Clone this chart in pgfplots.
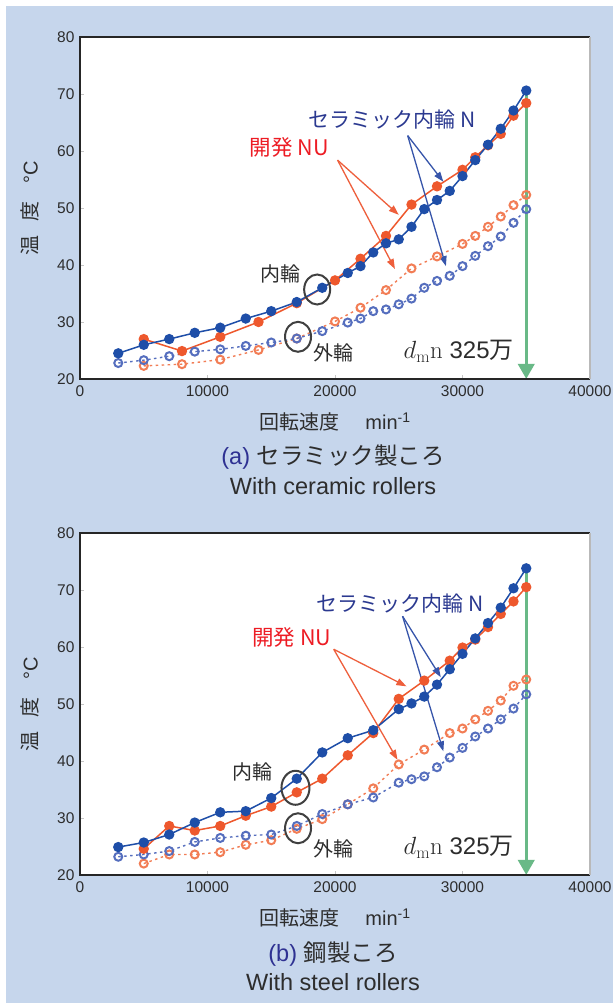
\documentclass[border=0pt]{standalone}
\usepackage[no-math]{fontspec}
\setmainfont{Liberation Sans}
\newfontfamily\jp{Noto Sans CJK JP}
\usepackage{pgfplots}
\pgfplotsset{compat=1.18}
\usetikzlibrary{arrows.meta}

\definecolor{bgblue}{RGB}{198,214,236}
\definecolor{blueF}{RGB}{30,78,168}
\definecolor{redF}{RGB}{238,88,45}
\definecolor{blueO}{RGB}{85,110,190}
\definecolor{redO}{RGB}{242,125,85}
\definecolor{txtblue}{RGB}{43,57,144}
\definecolor{txtred}{RGB}{237,28,36}
\definecolor{arrR}{RGB}{238,95,60}
\definecolor{arrB}{RGB}{55,85,170}
\definecolor{greenA}{RGB}{105,185,135}
\definecolor{capblue}{RGB}{46,49,146}
\definecolor{dark}{RGB}{45,45,45}

\pgfplotsset{mychart/.style={
  scale only axis, width=510pt, height=342pt,
  xmin=0, xmax=40000, ymin=20, ymax=80,
  xtick={0,10000,20000,30000,40000}, ytick={20,30,40,50,60,70,80},
  scaled x ticks=false, /pgf/number format/1000 sep={},
  /pgf/number format/assume math mode=true,
  tick label style={font=\fontsize{15.5}{18}\selectfont, text=dark},
  xticklabel style={yshift=-3pt}, yticklabel style={xshift=-2pt},
  major tick length=4pt, tick style={gray!45, line width=0.8pt},
  tick pos=left,
  axis line style={draw=none},
  axis background/.style={fill=white},
  clip=false,
  xlabel={{\jp 回転速度}\hspace{1.3em}min\textsuperscript{-1}},
  ylabel={{\jp 温\hspace{0.7em}度}\hspace{0.9em}°C},
  xlabel style={at={(axis description cs:0.5,-0.126)}, anchor=center, font=\fontsize{20}{24}\selectfont, text=dark},
  ylabel style={at={(axis description cs:-0.098,0.5)}, anchor=center, font=\fontsize{20}{24}\selectfont, text=dark},
  openR/.style={redO, line width=1.4pt, dash pattern=on 2.5pt off 3.5pt, mark=o, mark size=4pt, mark options={solid, draw=redO, fill=white, line width=2pt}},
  openB/.style={blueO, line width=1.4pt, dash pattern=on 2.5pt off 3.5pt, mark=o, mark size=4pt, mark options={solid, draw=blueO, fill=white, line width=2pt}},
  fillR/.style={redF, line width=1.5pt, mark=*, mark size=4.4pt, mark options={solid, fill=redF, draw=redF}},
  fillB/.style={blueF, line width=1.5pt, mark=*, mark size=4.4pt, mark options={solid, fill=blueF, draw=blueF}},
}}

\begin{document}
\begin{tikzpicture}[x=1pt,y=1pt]
\fill[white] (0,0) rectangle (613,1003);
\fill[bgblue] (6,0) rectangle (613,997);

% ---------------- (a) ceramic rollers ----------------
\begin{axis}[mychart, at={(80pt,624pt)}, anchor=south west]
\draw[greenA, line width=3.5pt, -{Triangle[length=15pt,width=16pt]}] (axis cs:35000,70.6) -- (axis cs:35000,20);
\addplot[openR] coordinates {(5000,22.3)(8000,22.6)(11000,23.4)(14000,25.1)(17000,27.1)(20000,30.1)(22000,32.5)(24000,35.6)(26000,39.4)(28000,41.5)(30000,43.7)(31000,45.1)(32000,46.7)(33000,48.5)(34000,50.5)(35000,52.3)};
\addplot[openB] coordinates {(3000,22.8)(5000,23.3)(7000,24.0)(9000,24.8)(11000,25.2)(13000,25.8)(15000,26.4)(17000,27.1)(19000,28.4)(21000,29.9)(22000,30.6)(23000,31.9)(24000,32.2)(25000,33.1)(26000,34.1)(27000,36.0)(28000,37.2)(29000,38.1)(30000,39.8)(31000,41.6)(32000,43.3)(33000,45.0)(34000,47.4)(35000,49.8)};
\addplot[fillR] coordinates {(5000,27.0)(8000,24.9)(11000,27.4)(14000,30.0)(17000,33.3)(20000,37.3)(22000,41.1)(24000,45.1)(26000,50.6)(28000,53.8)(30000,56.7)(31000,58.9)(32000,61.0)(33000,63.0)(34000,66.2)(35000,68.4)};
\addplot[fillB] coordinates {(3000,24.5)(5000,26.0)(7000,27.0)(9000,28.1)(11000,29.0)(13000,30.6)(15000,31.9)(17000,33.5)(19000,36.0)(21000,38.6)(22000,39.8)(23000,42.2)(24000,43.8)(25000,44.5)(26000,46.7)(27000,49.8)(28000,51.4)(29000,53.0)(30000,55.6)(31000,58.4)(32000,61.1)(33000,63.9)(34000,67.1)(35000,70.6)};
\draw[arrR, line width=1.3pt, -{Triangle[length=10pt,width=7pt]}] (axis cs:20200,58.4) -- (axis cs:25000,48.8);
\draw[arrR, line width=1.3pt, -{Triangle[length=10pt,width=7pt]}] (axis cs:20200,58.4) -- (axis cs:24700,39.3);
\draw[arrB, line width=1.3pt, -{Triangle[length=10pt,width=7pt]}] (axis cs:25700,62.7) -- (axis cs:28500,54.6);
\draw[arrB, line width=1.3pt, -{Triangle[length=10pt,width=7pt]}] (axis cs:25700,62.7) -- (axis cs:28700,39.8);
\node[text=txtblue, font=\jp\fontsize{21}{24}\selectfont] at (axis cs:24500,65.6) {セラミック内輪 N};
\node[text=txtred, font=\jp\fontsize{21.5}{24}\selectfont] at (axis cs:16400,60.7) {開発 NU};
\draw[black!75, line width=2pt] (axis cs:18600,35.7) ellipse [x radius=13pt, y radius=15pt];
\draw[black!75, line width=2pt] (axis cs:17100,27.4) ellipse [x radius=13pt, y radius=15pt];
\node[text=dark, font=\jp\fontsize{20}{24}\selectfont] at (axis cs:15700,38.5) {内輪};
\node[text=dark, font=\jp\fontsize{20}{24}\selectfont] at (axis cs:19900,24.6) {外輪};
\node[text=dark, font=\fontsize{24}{28}\selectfont] at (axis cs:29700,24.9) {$d_{\mathrm{m}}\mathrm{n}$ 325{\jp 万}};
\draw[line width=2.6pt, black!85] (rel axis cs:1,1) -- (rel axis cs:0,1) -- (rel axis cs:0,0) -- (rel axis cs:1,0);
\draw[line width=2pt, gray!55] (rel axis cs:1,0) -- (rel axis cs:1,1);
\end{axis}

% ---------------- (b) steel rollers ----------------
\begin{axis}[mychart, at={(80pt,128pt)}, anchor=south west]
\draw[greenA, line width=3.5pt, -{Triangle[length=15pt,width=16pt]}] (axis cs:35000,73.8) -- (axis cs:35000,20);
\addplot[openR] coordinates {(5000,22.0)(7000,23.6)(9000,23.6)(11000,24.0)(13000,25.3)(15000,26.1)(17000,28.1)(19000,29.8)(21000,32.4)(23000,35.2)(25000,39.4)(27000,42.0)(29000,44.9)(30000,45.7)(31000,47.3)(32000,48.8)(33000,50.6)(34000,53.2)(35000,54.3)};
\addplot[openB] coordinates {(3000,23.2)(5000,23.6)(7000,24.2)(9000,25.8)(11000,26.5)(13000,26.9)(15000,27.1)(17000,28.6)(19000,30.7)(21000,32.4)(23000,33.6)(25000,36.2)(26000,36.8)(27000,37.3)(28000,38.9)(29000,40.6)(30000,42.3)(31000,44.3)(32000,45.7)(33000,47.3)(34000,49.2)(35000,51.7)};
\addplot[fillR] coordinates {(5000,24.6)(7000,28.6)(9000,27.8)(11000,28.6)(13000,30.4)(15000,32.0)(17000,34.5)(19000,36.9)(21000,41.0)(23000,44.9)(25000,50.9)(27000,54.1)(29000,57.6)(30000,59.9)(31000,61.3)(32000,63.5)(33000,65.8)(34000,68.0)(35000,70.5)};
\addplot[fillB] coordinates {(3000,24.9)(5000,25.7)(7000,27.1)(9000,29.2)(11000,31.0)(13000,31.2)(15000,33.5)(17000,36.9)(19000,41.5)(21000,44.0)(23000,45.4)(25000,49.1)(26000,50.1)(27000,51.3)(28000,53.4)(29000,56.1)(30000,58.8)(31000,61.5)(32000,64.2)(33000,66.9)(34000,70.3)(35000,73.8)};
\draw[arrR, line width=1.3pt, -{Triangle[length=10pt,width=7pt]}] (axis cs:19900,59.6) -- (axis cs:25600,53.1);
\draw[arrR, line width=1.3pt, -{Triangle[length=10pt,width=7pt]}] (axis cs:19900,59.6) -- (axis cs:24900,40.2);
\draw[arrB, line width=1.3pt, -{Triangle[length=10pt,width=7pt]}] (axis cs:25300,65.4) -- (axis cs:28300,54.7);
\draw[arrB, line width=1.3pt, -{Triangle[length=10pt,width=7pt]}] (axis cs:25300,65.4) -- (axis cs:28500,41.7);
\node[text=txtblue, font=\jp\fontsize{21}{24}\selectfont] at (axis cs:25100,67.7) {セラミック内輪 N};
\node[text=txtred, font=\jp\fontsize{21.5}{24}\selectfont] at (axis cs:16600,61.7) {開発 NU};
\draw[black!75, line width=2pt] (axis cs:16900,35.3) ellipse [x radius=14pt, y radius=17pt];
\draw[black!75, line width=2pt] (axis cs:17100,28.2) ellipse [x radius=13pt, y radius=15pt];
\node[text=dark, font=\jp\fontsize{20}{24}\selectfont] at (axis cs:13500,38.0) {内輪};
\node[text=dark, font=\jp\fontsize{20}{24}\selectfont] at (axis cs:19900,24.6) {外輪};
\node[text=dark, font=\fontsize{24}{28}\selectfont] at (axis cs:29700,24.9) {$d_{\mathrm{m}}\mathrm{n}$ 325{\jp 万}};
\draw[line width=2.6pt, black!85] (rel axis cs:1,1) -- (rel axis cs:0,1) -- (rel axis cs:0,0) -- (rel axis cs:1,0);
\draw[line width=2pt, gray!55] (rel axis cs:1,0) -- (rel axis cs:1,1);
\end{axis}

% captions
\node[text=dark, font=\fontsize{23.5}{28}\selectfont] at (333,546) {\textcolor{capblue}{(a)} {\jp セラミック製ころ}};
\node[text=dark, font=\fontsize{23.5}{28}\selectfont] at (333,517) {With ceramic rollers};
\node[text=dark, font=\fontsize{23.5}{28}\selectfont] at (333,49) {\textcolor{capblue}{(b)} {\jp 鋼製ころ}};
\node[text=dark, font=\fontsize{23.5}{28}\selectfont] at (333,21) {With steel rollers};
\end{tikzpicture}
\end{document}
